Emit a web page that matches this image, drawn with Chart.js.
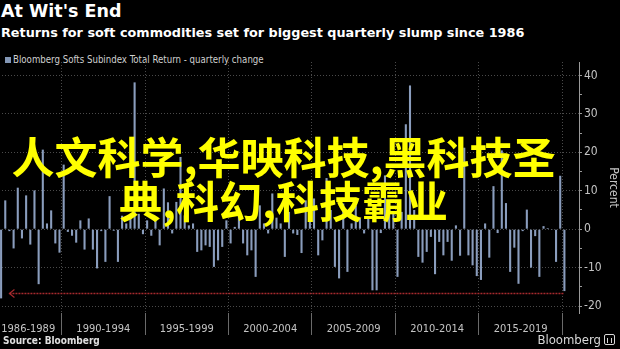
<!DOCTYPE html>
<html>
<head>
<meta charset="utf-8">
<script src="https://cdn.jsdelivr.net/npm/chart.js@4/dist/chart.umd.min.js"></script>
<style>
  html, body { margin: 0; padding: 0; background: #000; width: 620px; height: 349px; overflow: hidden; }
  body { position: relative; font-family: 'DejaVu Sans', sans-serif; color: #fff; }
  #chart-wrap { position: absolute; left: -1px; top: 0; width: 621px; height: 349px; }
  .title { position: absolute; left: 1px; top: 1px; font-weight: bold; font-size: 17.5px; white-space: nowrap; }
  .subtitle { position: absolute; left: 1px; top: 25px; font-weight: bold; font-size: 12.8px; white-space: nowrap; }
  .legend { position: absolute; left: 5px; top: 54px; font-family: 'DejaVu Sans Condensed', sans-serif; font-size: 9.6px; color: #cfcfcf; white-space: nowrap; }
  .legend i { display: inline-block; width: 6px; height: 6px; background: #8397b6; margin-right: 2px; }
  .source { position: absolute; left: 3px; top: 335px; font-family: 'DejaVu Sans Condensed', sans-serif; font-weight: bold; font-size: 10px; color: #e0e0e0; }
  .brand { position: absolute; right: 5px; top: 332px; font-family: 'DejaVu Sans Condensed', sans-serif; font-size: 13px; color: #d8d8d8; white-space: nowrap; }
  .brand b { display: inline-block; width: 9px; height: 9px; border: 1.5px solid #d8d8d8; border-radius: 2px; margin-left: 3px; vertical-align: -1px; position: relative; }
  .brand b::after { content: ''; position: absolute; left: 2px; bottom: 1px; width: 5px; height: 5px; border-left: 1.5px solid #d8d8d8; border-right: 1.5px solid #d8d8d8; box-sizing: border-box; }
  .overlay { position: absolute; left: 0; top: 133px; width: 567px; text-align: center; font-family: 'Noto Sans CJK SC', sans-serif; font-weight: bold; font-size: 43px; line-height: 44px; color: #ffff00; white-space: nowrap; }
</style>
</head>
<body>
<div class="title">At Wit's End</div>
<div class="subtitle">Returns for soft commodities set for biggest quarterly slump since 1986</div>
<div class="legend"><i></i>Bloomberg Softs Subindex Total Return - quarterly change</div>
<div id="chart-wrap"><canvas id="chart" width="621" height="349"></canvas></div>
<div class="overlay">人文科学,华映科技,黑科技圣<br>典,科幻,科技霸业</div>
<div class="source">Source: Bloomberg</div>
<div class="brand">Bloomberg<b></b></div>

<script>
// quarterly change, %, 1986 Q2 through 2020 Q1
var softsReturn = [
  -18.0, 7.5, -0.5, -5.0, 10.8, -2.4, 8.8, -4.0, 10.1, -14.3,
  20.7, 1.5, 4.9, -3.7, -6.1, 16.8, -0.7, -1.7, -3.5, 2.3,
  -5.3, 2.8, -5.3, -10.2, -0.5, -8.5, 8.6, -0.4, -8.5, 3.5,
  1.5, 4.0, 38.2, 4.0, -1.3, 2.3, -1.7, 2.8, -4.2, 10.6,
  7.0, -1.1, 7.1, 18.8, 3.6, 1.0, 1.5, -5.9, -5.5, -4.2,
  -4.6, -9.8, -8.1, -4.6, 2.3, -3.7, 0.6, 4.5, -3.7, -6.8,
  -5.5, -12.4, 6.2, 1.5, -1.1, 9.3, 3.0, 1.5, -7.2, 4.5,
  -1.1, -1.5, -6.2, 7.5, 2.3, 8.0, -6.8, -2.9, 13.3, 5.0,
  -9.8, -12.8, 6.7, -11.1, 1.5, 6.2, 2.8, -1.1, 2.8, -15.9,
  -15.9, -1.0, 14.0, 5.0, 4.5, -12.4, 4.5, 27.3, 37.4, 5.0,
  -7.2, -8.7, -5.9, -2.0, -11.7, -3.3, -6.8, -3.3, -8.2, 1.0,
  -6.9, 21.2, -6.8, -9.4, -12.2, -13.2, 1.5, -7.4, 11.2, -1.0,
  20.5, 6.8, -11.1, -4.8, -14.2, -0.5, 5.1, -10.0, -1.8, -12.4,
  0.8, 0.3, -0.2, -8.5, 13.9, -16.1
];

// x axis periods and their first year
var periodLabels = ['1986-1989', '1990-1994', '1995-1999', '2000-2004', '2005-2009', '2010-2014', '2015-2019'];
var periodStarts = [1986, 1990, 1995, 2000, 2005, 2010, 2015];
var yTickLabels = [-20, -10, 0, 10, 20, 30, 40];

// dotted marker from the latest quarter back to 1986
var slumpLevel = -16.7;
var arrowFrom = 2;
var arrowTo = 135;

// axis runs 1986 Q2 .. 2020 Q4
var firstYear = 1986, firstQuarter = 2, lastYear = 2020;
var quarters = [];
for (var yr = firstYear; yr <= lastYear; yr++) {
  for (var q = (yr === firstYear ? firstQuarter : 1); q <= 4; q++) {
    quarters.push(yr + ' Q' + q);
  }
}

function slotOf(year) {
  return quarters.indexOf(year + ' Q1');
}

// grid separators at start of each period (plus 2020)
var separators = periodStarts.slice(1).map(slotOf).concat([slotOf(2020)]);

// label sits at the middle boundary of its period, drawn at tick (mid - 1) + half a slot
var labelAt = {};
periodStarts.forEach(function(start, i) {
  var end = i + 1 < periodStarts.length ? periodStarts[i + 1] : 2020;
  var from = (start - firstYear) * 4 - 1;
  var to = (end - firstYear) * 4 - 1;
  labelAt[(from + to) / 2 - 1] = periodLabels[i];
});

var slumpMarker = {
  id: 'slumpMarker',
  afterDatasetsDraw: function(chart) {
    var ctx = chart.ctx;
    var x = chart.scales.x, y = chart.scales.y;
    var py = Math.round(y.getPixelForValue(slumpLevel)) + 0.5;
    var x0 = x.getPixelForValue(arrowFrom);
    var x1 = x.getPixelForValue(arrowTo);
    ctx.save();
    ctx.strokeStyle = '#a62a2e';
    ctx.lineWidth = 1.5;
    ctx.setLineDash([2, 1]);
    ctx.beginPath();
    ctx.moveTo(x0, py);
    ctx.lineTo(x1, py);
    ctx.stroke();
    ctx.setLineDash([]);
    ctx.lineWidth = 1.2;
    ctx.beginPath();
    ctx.moveTo(x0 + 5, py - 4);
    ctx.lineTo(x0, py);
    ctx.lineTo(x0 + 5, py + 4);
    ctx.stroke();
    ctx.restore();
  }
};

var gridColor = '#4a4a4a';
var axisColor = '#9a9a9a';
var tickFont = { family: 'DejaVu Sans Condensed', size: 11 };

new Chart(document.getElementById('chart'), {
  type: 'bar',
  data: {
    labels: quarters,
    datasets: [{
      label: 'Bloomberg Softs Subindex Total Return - quarterly change',
      data: softsReturn,
      backgroundColor: '#8a9dbd',
      barPercentage: 0.5,
      categoryPercentage: 1.0
    }]
  },
  options: {
    responsive: false,
    animation: false,
    devicePixelRatio: 1,
    layout: { padding: { top: 62, left: 0, right: 0, bottom: 0 } },
    plugins: {
      legend: { display: false },
      tooltip: { enabled: false }
    },
    scales: {
      x: {
        afterFit: function(scale) { scale.height = 36; },
        grid: {
          offset: true,
          color: function(c) { return separators.indexOf(c.index) !== -1 ? gridColor : 'transparent'; },
          tickColor: function(c) { return separators.indexOf(c.index) !== -1 ? '#6a6a6a' : 'transparent'; },
          tickLength: 22
        },
        border: { display: false, dash: [1, 2] },
        ticks: {
          autoSkip: false,
          maxRotation: 0,
          minRotation: 0,
          padding: -12,
          labelOffset: 2.1,
          color: '#c4c4c4',
          font: tickFont,
          callback: function(v, i) { return labelAt[i] || ''; }
        }
      },
      y: {
        position: 'right',
        min: -21.8,
        max: 43.5,
        afterFit: function(scale) { scale.width = 41; },
        grid: {
          color: function(c) { return c.tick && yTickLabels.indexOf(c.tick.value) !== -1 ? gridColor : 'transparent'; },
          tickColor: axisColor,
          tickLength: 3
        },
        border: { color: axisColor, dash: [1, 2] },
        ticks: {
          stepSize: 5,
          includeBounds: false,
          padding: 2,
          color: '#c4c4c4',
          font: { family: 'DejaVu Sans Condensed', size: 12 },
          callback: function(v) { return yTickLabels.indexOf(v) !== -1 ? v : ''; }
        },
        title: {
          display: true,
          text: 'Percent',
          color: '#c4c4c4',
          font: { family: 'DejaVu Sans Condensed', size: 12 },
          padding: 0
        }
      }
    }
  },
  plugins: [slumpMarker]
});
</script>
</body>
</html>
